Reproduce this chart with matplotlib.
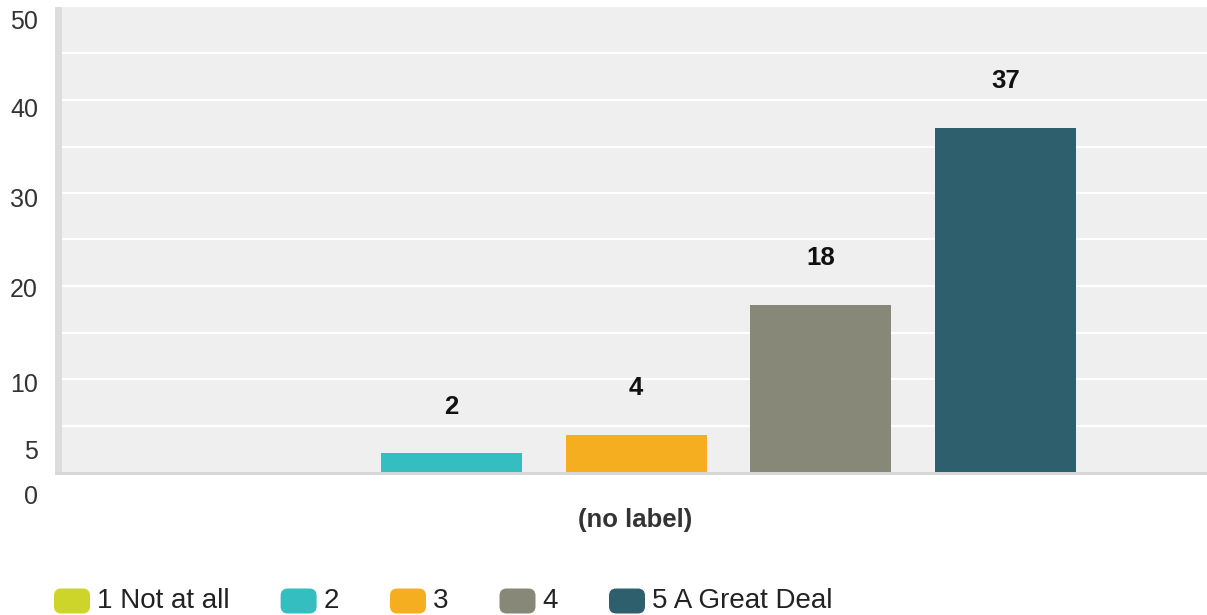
import matplotlib
matplotlib.use("Agg")
import matplotlib.pyplot as plt
from matplotlib.patches import FancyBboxPatch, Rectangle
import matplotlib.transforms as mtransforms

plt.rcParams["font.family"] = ["Liberation Sans", "DejaVu Sans"]

# Survey responses for a single (unlabelled) question
categories = ["1 Not at all", "2", "3", "4", "5 A Great Deal"]
counts = [0, 2, 4, 18, 37]
colors = ["#CDD52B", "#35BEC0", "#F6AE21", "#888878", "#2E5F6D"]

# Y-axis labels and where they sit along the value axis
ytick_labels = ["50", "40", "30", "20", "10", "5", "0"]
ytick_label_pos = [48.4, 38.9, 29.2, 19.6, 9.35, 2.15, -2.7]
grid_values = list(range(0, 55, 5))
x_title = "(no label)"

W, H = 1207, 615
fig = plt.figure(figsize=(W / 100, H / 100), dpi=100)
fig.patch.set_facecolor("white")

ax = fig.add_axes([55 / W, (H - 472) / H, 1 - 55 / W, (472 - 7) / H])
ax.set_facecolor("#EFEFEF")
ax.set_xlim(-1.147, 5.091)
ax.set_ylim(0, 50)

for v in grid_values[1:-1]:
    ax.axhline(v, color="white", lw=1.6, zorder=1)

positions = list(range(len(categories)))
bars = ax.bar(positions, counts, width=0.7635, color=colors, zorder=3)

for x, v in zip(positions, counts):
    if v > 0:
        ax.annotate(str(v), (x, v), xytext=(0, 33.5), textcoords="offset points",
                    ha="center", va="center", fontsize=18.5, fontweight="bold",
                    color="#111111", zorder=4)

for s in ax.spines.values():
    s.set_visible(False)
ax.set_xticks([])
ax.set_yticks([])

# left strip and bottom baseline
ax.add_patch(Rectangle((0, 0), 7 / (W - 55), 1, transform=ax.transAxes,
                       color="#DDDDDD", lw=0, zorder=2, clip_on=False))
ax.add_patch(Rectangle((0, -2.5 / 465), 1, 2.5 / 465, transform=ax.transAxes,
                       color="#D6D6D6", lw=0, zorder=2, clip_on=False))

trans = mtransforms.blended_transform_factory(fig.transFigure, ax.transData)
for lab, pos in zip(ytick_labels, ytick_label_pos):
    ax.text(38 / W, pos, lab, transform=trans, ha="right", va="center",
            fontsize=18, color="#333333", clip_on=False)

fig.text(635 / W, (H - 520) / H, x_title, ha="center", va="center",
         fontsize=18.5, fontweight="bold", color="#333333")

# Legend drawn along the bottom edge
fig.canvas.draw()
renderer = fig.canvas.get_renderer()
x = 54
yc = 601
sq_w, sq_h = 36, 25
for cat, col in zip(categories, colors):
    fig.patches.append(FancyBboxPatch((x / W, (H - yc - sq_h / 2) / H),
                                      sq_w / W, sq_h / H,
                                      boxstyle="round,pad=0,rounding_size=0.006",
                                      transform=fig.transFigure, fc=col, ec="none",
                                      mutation_aspect=W / H))
    t = fig.text((x + sq_w + 7) / W, (H - yc) / H, cat, ha="left", va="center",
                 fontsize=20, color="#222222")
    bb = t.get_window_extent(renderer)
    x = x + sq_w + 7 + bb.width + 51

fig.savefig("out.png", dpi=100, facecolor="white")
